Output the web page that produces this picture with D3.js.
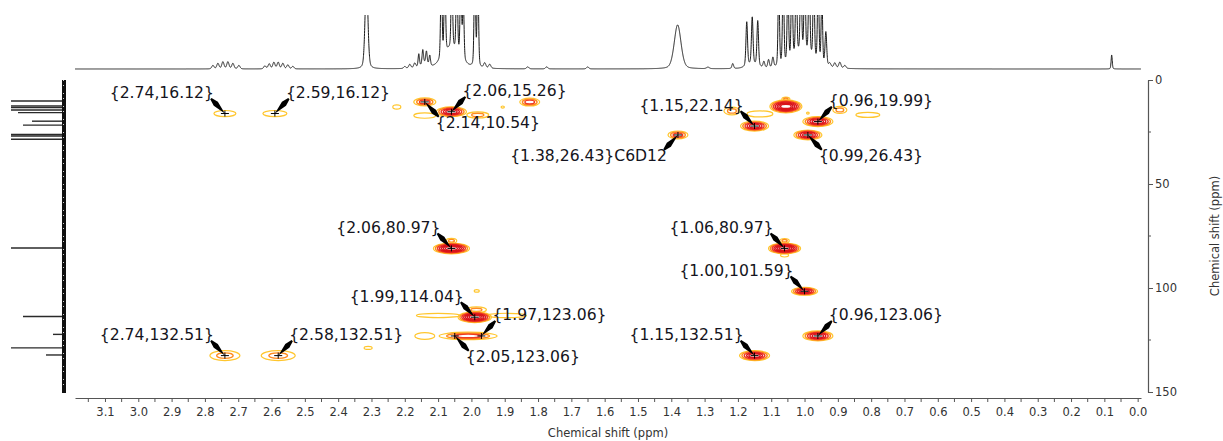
<!DOCTYPE html>
<html>
<head>
<meta charset="utf-8">
<script src="https://cdn.jsdelivr.net/npm/d3@7"></script>
<style>
  body { margin: 0; background: #fff; }
  svg { display: block; }
  text { font-family: "DejaVu Sans", Verdana, sans-serif; }
</style>
</head>
<body>
<svg id="chart" width="1223" height="441"></svg>
<script>
// ---------------- data ----------------
// 1H axis tick labels (ppm)
const protonTickValues = [3.1, 3.0, 2.9, 2.8, 2.7, 2.6, 2.5, 2.4, 2.3, 2.2, 2.1, 2.0, 1.9, 1.8, 1.7, 1.6,
                          1.5, 1.4, 1.3, 1.2, 1.1, 1.0, 0.9, 0.8, 0.7, 0.6, 0.5, 0.4, 0.3, 0.2, 0.1, 0.0];
// 13C axis tick labels (ppm)
const carbonTickValues = [0, 50, 100, 150];

// Annotated cross peaks: 1H shift, 13C shift, extra note
const peakH = [2.74, 2.59, 2.06, 2.14, 1.15, 1.38, 0.96, 0.99, 2.06, 1.06, 1.00, 1.99, 1.97, 2.05, 0.96, 2.74, 2.58, 1.15];
const peakC = [16.12, 16.12, 15.26, 10.54, 22.14, 26.43, 19.99, 26.43, 80.97, 80.97, 101.59, 114.04, 123.06, 123.06, 123.06, 132.51, 132.51, 132.51];
const peakNote = ["", "", "", "", "", "C6D12", "", "", "", "", "", "", "", "", "", "", "", ""];

// Contoured cross peaks: centre (1H, 13C), half widths (1H ppm, 13C ppm), number of contour levels
const contourH      = [2.74, 2.59, 2.224, 2.14, 2.14, 1.981, 2.06, 1.825, 1.906, 1.38, 1.218, 1.134, 1.15, 1.056, 1.056, 0.99, 0.99, 0.96, 0.894, 0.81,
                       2.06, 2.06, 1.06, 1.06, 1.06, 1.00, 1.984, 2.10, 1.894, 1.985, 1.99, 2.14, 2.01, 0.96, 1.15, 2.74, 2.58, 2.31];
const contourC      = [16.12, 16.12, 13.0, 17.1, 10.54, 16.8, 15.26, 10.6, 13.0, 26.43, 14.9, 16.3, 22.14, 9.2, 12.7, 15.9, 26.43, 19.99, 14.4, 16.8,
                       77.3, 80.97, 77.3, 84.3, 80.97, 101.59, 101.4, 113.2, 113.2, 110.5, 114.04, 123.06, 123.06, 123.06, 132.51, 132.51, 132.51, 128.8];
const contourWidthH = [0.033, 0.036, 0.012, 0.033, 0.033, 0.033, 0.045, 0.03, 0.005, 0.03, 0.024, 0.039, 0.042, 0.012, 0.048, 0.004, 0.042, 0.045, 0.021, 0.036,
                       0.016, 0.054, 0.014, 0.012, 0.048, 0.039, 0.0075, 0.065, 0.059, 0.03, 0.05, 0.03, 0.087, 0.045, 0.045, 0.045, 0.051, 0.012];
const contourWidthC = [1.45, 1.45, 1.0, 1.3, 1.9, 1.45, 2.4, 1.9, 0.5, 1.9, 1.9, 1.45, 2.4, 1.0, 3.1, 0.5, 2.4, 2.4, 1.7, 1.2,
                       1.2, 2.6, 1.1, 0.8, 2.6, 1.9, 0.6, 1.0, 1.05, 1.4, 2.6, 1.6, 1.8, 2.4, 2.4, 2.4, 2.4, 0.7];
const contourLevels = [1, 1, 1, 1, 3, 2, 5, 3, 1, 3, 2, 1, 5, 2, 7, 1, 5, 5, 2, 1,
                       2, 7, 2, 1, 7, 5, 1, 1, 1, 2, 7, 1, 3, 5, 5, 2, 2, 1];

// 1H projection: line positions (ppm), heights, half widths (ppm)
const protonPpm    = [2.776, 2.761, 2.746, 2.731, 2.716, 2.698,
                      2.620, 2.607, 2.593, 2.580, 2.566, 2.551, 2.536,
                      2.315, 2.200, 2.185, 2.170,
                      2.158, 2.146, 2.135, 2.125, 2.140,
                      2.0903, 2.0798, 2.0588, 2.0438, 2.0318, 2.0243, 1.9898, 1.9808, 2.060, 1.960, 1.945,
                      1.831, 1.774, 1.651, 1.381, 1.290,
                      1.2155, 1.1735, 1.157, 1.1405, 1.157, 1.122, 1.108, 1.095,
                      1.0774, 1.064, 1.050, 1.038, 1.025, 1.011, 0.9994, 0.986, 0.9724, 0.959, 0.948, 0.936, 1.005,
                      0.924, 0.909, 0.894, 0.879, 0.078];
const protonHeight = [3.5, 5.5, 7, 7, 5.5, 3.5,
                      3, 5, 6.5, 6.5, 5.5, 4, 2.5,
                      90, 2, 4, 5,
                      13, 14, 12, 10, 5,
                      90, 90, 85, 90, 85, 60, 110, 100, 20, 5, 4,
                      2, 2, 2, 44, 1.5,
                      5, 44, 47, 45, 4, 6, 8, 10,
                      85, 95, 85, 95, 90, 95, 90, 95, 90, 90, 70, 34, 16,
                      4, 5, 6, 3, 14];
const protonWidth  = [0.004, 0.004, 0.004, 0.004, 0.004, 0.004,
                      0.004, 0.004, 0.004, 0.004, 0.004, 0.004, 0.004,
                      0.005, 0.004, 0.004, 0.004,
                      0.0025, 0.0025, 0.0025, 0.0025, 0.012,
                      0.0025, 0.0025, 0.0025, 0.0025, 0.0025, 0.0025, 0.0025, 0.0025, 0.03, 0.004, 0.004,
                      0.004, 0.004, 0.004, 0.012, 0.005,
                      0.003, 0.0028, 0.0028, 0.0028, 0.02, 0.003, 0.003, 0.003,
                      0.0025, 0.0025, 0.0025, 0.0025, 0.0025, 0.0025, 0.0025, 0.0025, 0.0025, 0.0025, 0.0025, 0.003, 0.035,
                      0.004, 0.004, 0.004, 0.004, 0.002];

// 13C projection: line positions (ppm) and heights
const carbonPpm    = [10.1, 12.5, 13.3, 14.4, 15.7, 19.8, 21.7, 26.2, 26.9, 28.5, 80.8, 113.7, 122.3, 128.8, 132.2];
const carbonHeight = [80, 80, 80, 80, 46, 32, 41, 80, 80, 80, 80, 41, 11, 80, 18];

// ---------------- layout ----------------
const plot = { left: 75, right: 1141, top: 80, bottom: 392 };
const xAxisY = 398, yAxisX = 1148;
const traceBase = 69, traceTop = 15;
const projX = 64, projLeft = 11;

// label placement per annotated peak: vertical side, horizontal side
const labelSide = ["ul", "ur", "ur", "dr", "ul", "dl", "ur", "dr", "ul", "ul", "ul", "ul", "ur", "dr", "ur", "ul", "ur", "ul"];

const levelColors = ["#ffc62e", "#ff8a1e", "#ee3a22", "#e0191d", "#d8141a", "#d8141a", "#d8141a"];

const svg = d3.select("#chart");

const x = d3.scaleLinear().domain([3.19, -0.01]).range([plot.left, plot.right]);
const y = d3.scaleLinear().domain([0, 150]).range([plot.top, plot.bottom]);

// clip paths
const defs = svg.append("defs");
defs.append("clipPath").attr("id", "plotClip")
  .append("rect").attr("x", plot.left).attr("y", plot.top)
  .attr("width", plot.right - plot.left).attr("height", plot.bottom - plot.top);
defs.append("clipPath").attr("id", "traceClip")
  .append("rect").attr("x", plot.left - 2).attr("y", traceTop)
  .attr("width", plot.right - plot.left + 4).attr("height", traceBase - traceTop + 4);

// ---------------- 1H projection (top) ----------------
function lineShape(d, w) {
  const r = d / w;
  return 0.7 * Math.exp(-Math.LN2 * r * r) + 0.3 / (1 + r * r);
}
const yTrace = d3.scaleLinear().domain([0, traceBase - traceTop]).range([traceBase, traceTop]);
const grid = d3.range(3.19, -0.0101, -0.0003);
const trace = grid.map(p => {
  let s = 0;
  for (let i = 0; i < protonPpm.length; i++) s += protonHeight[i] * lineShape(p - protonPpm[i], protonWidth[i]);
  return [p, s];
});
svg.append("path")
  .attr("clip-path", "url(#traceClip)")
  .attr("d", d3.line().x(d => x(d[0])).y(d => yTrace(d[1]))(trace))
  .attr("fill", "none").attr("stroke", "#1a1a1a").attr("stroke-width", 1);

// ---------------- 13C projection (left) ----------------
const xProj = d3.scaleLinear().domain([0, projX - projLeft]).range([projX, projLeft]).clamp(true);
const proj = svg.append("g");
proj.selectAll("line.stick").data(carbonPpm).join("line")
  .attr("class", "stick")
  .attr("x1", xProj(0)).attr("x2", (d, i) => xProj(carbonHeight[i]))
  .attr("y1", d => y(d)).attr("y2", d => y(d))
  .attr("stroke", "#2a2a2a").attr("stroke-width", 1.4);
proj.append("line")
  .attr("x1", projX).attr("x2", projX).attr("y1", y(0)).attr("y2", y(150) + 1)
  .attr("stroke", "#111").attr("stroke-width", 4);
proj.append("line")
  .attr("x1", projX - 0.5).attr("x2", projX - 0.5).attr("y1", y(0)).attr("y2", y(150))
  .attr("stroke", "#fff").attr("stroke-width", 0.8).attr("stroke-dasharray", "1,4,1,7");

// ---------------- contours ----------------
const cont = svg.append("g").attr("clip-path", "url(#plotClip)");
contourH.forEach((h, i) => {
  const n = contourLevels[i];
  const rx = Math.abs(x(h + contourWidthH[i]) - x(h));
  const ry = Math.abs(y(contourC[i] + contourWidthC[i]) - y(contourC[i]));
  const step = n > 2 ? 0.78 / n : 0.45;
  cont.append("g").selectAll("ellipse").data(d3.range(n)).join("ellipse")
    .attr("cx", x(h)).attr("cy", y(contourC[i]))
    .attr("rx", k => rx * (1 - k * step))
    .attr("ry", k => ry * (1 - k * step))
    .attr("fill", "none")
    .attr("stroke", k => levelColors[Math.min(k, levelColors.length - 1)])
    .attr("stroke-width", k => k === 0 ? 1.2 : 1.4);
});

// ---------------- markers, arrows, labels ----------------
const ann = svg.append("g");
peakH.forEach((h, i) => {
  const px = x(h), py = y(peakC[i]);
  const sx = labelSide[i][1] === "r" ? 1 : -1;
  const sy = labelSide[i][0] === "d" ? 1 : -1;

  // cross marker
  ann.append("path")
    .attr("d", `M${px - 4},${py}H${px + 4}M${px},${py - 3}V${py + 3}`)
    .attr("stroke", "#000").attr("stroke-width", 1).attr("fill", "none");

  // wedge arrow from label corner to peak
  const sxp = px + sx * 14, syp = py + sy * 15;
  const dx = px - sxp, dy = py - syp, L = Math.hypot(dx, dy);
  const ux = dx / L, uy = dy / L, nx = -uy, ny = ux;
  const pt = (t, w) => [sxp + ux * L * t + nx * w, syp + uy * L * t + ny * w];
  const poly = [pt(0, 0.9), pt(0.35, 2.8), pt(0.85, 0.6), [px, py], pt(0.85, -0.6), pt(0.35, -2.8), pt(0, -0.9)];
  ann.append("path").attr("d", "M" + poly.map(p => p.join(",")).join("L") + "Z").attr("fill", "#000");

  // label text
  ann.append("text")
    .attr("x", px + sx * 11)
    .attr("y", py + sy * 21 + 5.5)
    .attr("text-anchor", sx > 0 ? "start" : "end")
    .attr("font-size", 15.6)
    .attr("fill", "#141420")
    .text(`{${h.toFixed(2)},${peakC[i].toFixed(2)}}${peakNote[i]}`);
});

// ---------------- axes ----------------
const xAxis = svg.append("g").attr("transform", `translate(0,${xAxisY})`)
  .call(d3.axisBottom(x).tickValues(protonTickValues).tickSize(4).tickSizeOuter(0).tickPadding(6)
    .tickFormat(d3.format(".1f")));
svg.append("g").attr("transform", `translate(0,${xAxisY})`)
  .selectAll("line").data(d3.range(0.05, 3.19, 0.1)).join("line")
  .attr("x1", d => x(d)).attr("x2", d => x(d)).attr("y1", 0).attr("y2", 4)
  .attr("stroke", "#555");
xAxis.select(".domain").attr("stroke", "#555").attr("stroke-width", 1.2);
xAxis.selectAll(".tick line").attr("stroke", "#555");
xAxis.selectAll("text").attr("font-size", 11.5).attr("fill", "#333").attr("font-family", "DejaVu Sans, sans-serif");

const yAxis = svg.append("g").attr("transform", `translate(${yAxisX},0)`)
  .call(d3.axisRight(y).tickValues(carbonTickValues).tickSize(5).tickSizeOuter(0).tickPadding(2));
svg.append("g").attr("transform", `translate(${yAxisX},0)`)
  .selectAll("line").data([25, 75, 125]).join("line")
  .attr("x1", 0).attr("x2", 3).attr("y1", d => y(d)).attr("y2", d => y(d))
  .attr("stroke", "#555");
yAxis.select(".domain").attr("stroke", "#555").attr("stroke-width", 1.2);
yAxis.selectAll(".tick line").attr("stroke", "#555");
yAxis.selectAll("text").attr("font-size", 11.5).attr("fill", "#333").attr("font-family", "DejaVu Sans, sans-serif");

svg.append("text")
  .attr("x", (plot.left + plot.right) / 2).attr("y", 437)
  .attr("text-anchor", "middle").attr("font-size", 11.5).attr("fill", "#333")
  .text("Chemical shift (ppm)");
svg.append("text")
  .attr("transform", `translate(1219,${(plot.top + plot.bottom) / 2}) rotate(-90)`)
  .attr("text-anchor", "middle").attr("font-size", 11.5).attr("fill", "#333")
  .text("Chemical shift (ppm)");
</script>
</body>
</html>
